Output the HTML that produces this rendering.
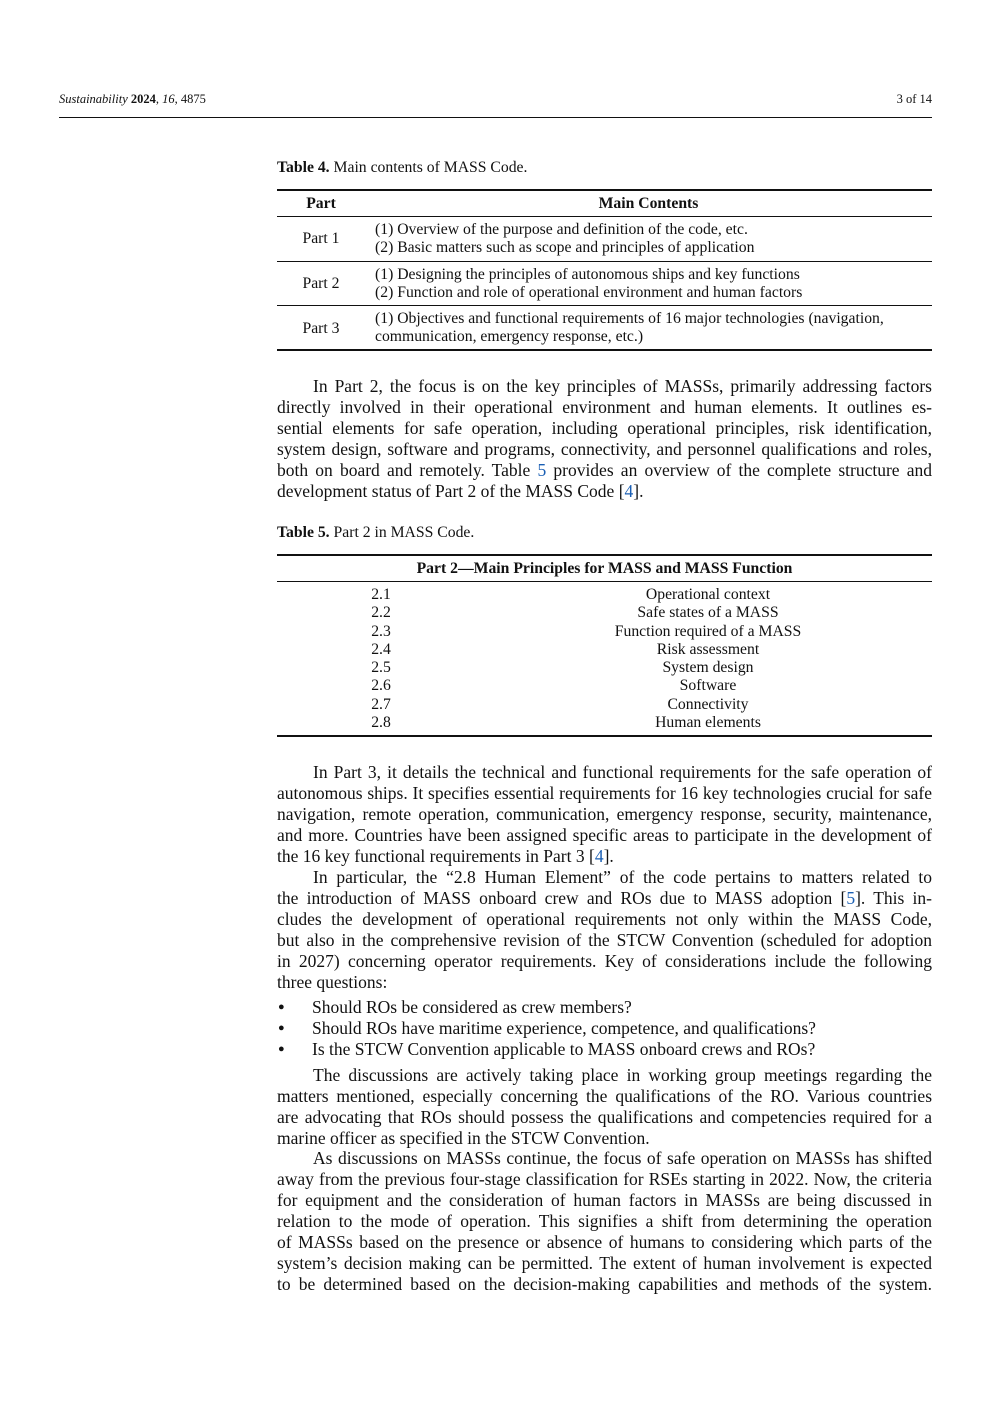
<!DOCTYPE html>
<html><head><meta charset="utf-8"><style>
body{margin:0;background:#fff;}
#p{position:relative;width:992px;height:1403px;font-family:"Liberation Serif",serif;color:#111;}
.a{position:absolute;white-space:nowrap;}
.l{position:absolute;left:277px;width:655px;font-size:17.5px;line-height:21px;text-align:justify;text-align-last:justify;white-space:nowrap;}
.e{text-align-last:left;}
.r{position:absolute;left:277px;width:655px;background:#111;}
.t{font-size:15.7px;line-height:18px;}
.c{position:absolute;text-align:center;font-size:15.7px;line-height:18px;white-space:nowrap;}
a{color:#1a5fb4;text-decoration:none;}
</style></head><body><div id="p">
<div class="a" style="left:59px;top:92px;font-size:12.5px"><i>Sustainability</i> <b>2024</b>, <i>16</i>, 4875</div>
<div class="a" style="right:60px;top:92px;font-size:12.5px">3 of 14</div>
<div style="position:absolute;left:59px;top:117px;width:873px;height:1px;background:#111"></div>

<div class="a t" style="left:277px;top:159px"><b>Table 4.</b> Main contents of MASS Code.</div>
<div class="r" style="top:189px;height:2px"></div>
<div class="c" style="left:277px;width:88px;top:195px"><b>Part</b></div>
<div class="c" style="left:365px;width:567px;top:195px"><b>Main Contents</b></div>
<div class="r" style="top:216px;height:1px"></div>
<div class="c" style="left:277px;width:88px;top:230px">Part 1</div>
<div class="a t" style="left:375px;top:221px">(1) Overview of the purpose and definition of the code, etc.<br>(2) Basic matters such as scope and principles of application</div>
<div class="r" style="top:261px;height:1px"></div>
<div class="c" style="left:277px;width:88px;top:275px">Part 2</div>
<div class="a t" style="left:375px;top:266px">(1) Designing the principles of autonomous ships and key functions<br>(2) Function and role of operational environment and human factors</div>
<div class="r" style="top:305px;height:1px"></div>
<div class="c" style="left:277px;width:88px;top:320px">Part 3</div>
<div class="a t" style="left:375px;top:310px">(1) Objectives and functional requirements of 16 major technologies (navigation,<br>communication, emergency response, etc.)</div>
<div class="r" style="top:349px;height:2px"></div>

<div class="l" style="top:376px;text-indent:36px">In Part 2, the focus is on the key principles of MASSs, primarily addressing factors</div>
<div class="l" style="top:397px">directly involved in their operational environment and human elements. It outlines es-</div>
<div class="l" style="top:418px">sential elements for safe operation, including operational principles, risk identification,</div>
<div class="l" style="top:439px">system design, software and programs, connectivity, and personnel qualifications and roles,</div>
<div class="l" style="top:460px">both on board and remotely. Table <a>5</a> provides an overview of the complete structure and</div>
<div class="l e" style="top:481px">development status of Part 2 of the MASS Code [<a>4</a>].</div>

<div class="a t" style="left:277px;top:524px"><b>Table 5.</b> Part 2 in MASS Code.</div>
<div class="r" style="top:554px;height:2px"></div>
<div class="c" style="left:277px;width:655px;top:560px"><b>Part 2—Main Principles for MASS and MASS Function</b></div>
<div class="r" style="top:581px;height:1px"></div>
<div class="c" style="left:331px;width:100px;top:586px;line-height:18.3px">2.1<br>2.2<br>2.3<br>2.4<br>2.5<br>2.6<br>2.7<br>2.8</div>
<div class="c" style="left:558px;width:300px;top:586px;line-height:18.3px">Operational context<br>Safe states of a MASS<br>Function required of a MASS<br>Risk assessment<br>System design<br>Software<br>Connectivity<br>Human elements</div>
<div class="r" style="top:735px;height:2px"></div>

<div class="l" style="top:762px;text-indent:36px">In Part 3, it details the technical and functional requirements for the safe operation of</div>
<div class="l" style="top:783px">autonomous ships. It specifies essential requirements for 16 key technologies crucial for safe</div>
<div class="l" style="top:804px">navigation, remote operation, communication, emergency response, security, maintenance,</div>
<div class="l" style="top:825px">and more. Countries have been assigned specific areas to participate in the development of</div>
<div class="l e" style="top:846px">the 16 key functional requirements in Part 3 [<a>4</a>].</div>
<div class="l" style="top:867px;text-indent:36px">In particular, the “2.8 Human Element” of the code pertains to matters related to</div>
<div class="l" style="top:888px">the introduction of MASS onboard crew and ROs due to MASS adoption [<a>5</a>]. This in-</div>
<div class="l" style="top:909px">cludes the development of operational requirements not only within the MASS Code,</div>
<div class="l" style="top:930px">but also in the comprehensive revision of the STCW Convention (scheduled for adoption</div>
<div class="l" style="top:951px">in 2027) concerning operator requirements. Key of considerations include the following</div>
<div class="l e" style="top:972px">three questions:</div>
<div class="a" style="left:278px;top:997px;font-size:11px;line-height:21px">●<br>●<br>●</div>
<div class="a" style="left:312px;top:997px;font-size:17.5px;line-height:21px">Should ROs be considered as crew members?<br>Should ROs have maritime experience, competence, and qualifications?<br>Is the STCW Convention applicable to MASS onboard crews and ROs?</div>
<div class="l" style="top:1065px;text-indent:36px">The discussions are actively taking place in working group meetings regarding the</div>
<div class="l" style="top:1086px">matters mentioned, especially concerning the qualifications of the RO. Various countries</div>
<div class="l" style="top:1107px">are advocating that ROs should possess the qualifications and competencies required for a</div>
<div class="l e" style="top:1128px">marine officer as specified in the STCW Convention.</div>
<div class="l" style="top:1148px;text-indent:36px">As discussions on MASSs continue, the focus of safe operation on MASSs has shifted</div>
<div class="l" style="top:1169px">away from the previous four-stage classification for RSEs starting in 2022. Now, the criteria</div>
<div class="l" style="top:1190px">for equipment and the consideration of human factors in MASSs are being discussed in</div>
<div class="l" style="top:1211px">relation to the mode of operation. This signifies a shift from determining the operation</div>
<div class="l" style="top:1232px">of MASSs based on the presence or absence of humans to considering which parts of the</div>
<div class="l" style="top:1253px">system’s decision making can be permitted. The extent of human involvement is expected</div>
<div class="l" style="top:1274px">to be determined based on the decision-making capabilities and methods of the system.</div>
</div></body></html>
